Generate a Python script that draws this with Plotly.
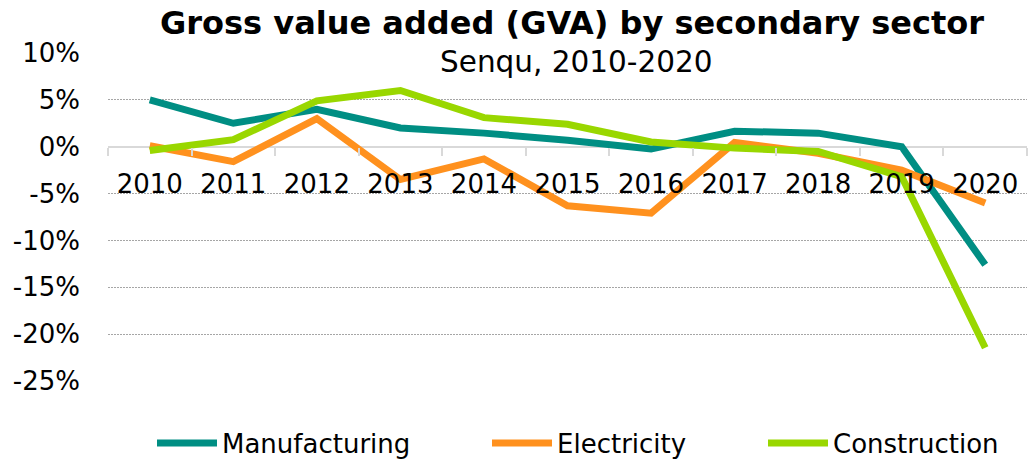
import plotly.graph_objects as go

years = ["2010", "2011", "2012", "2013", "2014", "2015", "2016", "2017", "2018", "2019", "2020"]
manufacturing = [5.0, 2.5, 4.0, 2.0, 1.45, 0.7, -0.25, 1.65, 1.45, 0.0, -12.6]
electricity = [0.1, -1.6, 3.0, -3.5, -1.3, -6.3, -7.1, 0.45, -0.7, -2.5, -6.0]
construction = [-0.4, 0.75, 4.9, 6.0, 3.1, 2.4, 0.5, -0.15, -0.5, -3.2, -21.45]

series_names = ["Manufacturing", "Electricity", "Construction"]
series_values = [manufacturing, electricity, construction]
series_colors = ["#008E83", "#FF911E", "#99D700"]
legend_ids = ["legend", "legend2", "legend3"]
legend_left_px = [157, 492, 768]

y_tick_values = [10, 5, 0, -5, -10, -15, -20, -25]
y_tick_labels = ["10%", "5%", "0%", "-5%", "-10%", "-15%", "-20%", "-25%"]

title_text = "<b>Gross value added (GVA) by secondary sector</b>"
subtitle_text = "Senqu, 2010-2020"

FONT = "Verdana, DejaVu Sans, sans-serif"

W, H = 1029, 461
L, R, T, B = 108, 2, 53, 80
plot_h = H - T - B
plot_w = W - L - R

fig = go.Figure()
for name, vals, col, lg in zip(series_names, series_values, series_colors, legend_ids):
    fig.add_trace(go.Scatter(
        x=years, y=vals, name=name, mode="lines",
        line=dict(color=col, width=7), legend=lg,
    ))

ymin, ymax = -25, 10
zero_pos = (0 - ymin) / (ymax - ymin)

legend_common = dict(orientation="h", xanchor="left", yanchor="middle",
                     y=(H - B - 443) / plot_h, bgcolor="rgba(0,0,0,0)",
                     font=dict(family=FONT, size=26, color="black"),
                     itemwidth=60)
legends = {}
for lg, px in zip(legend_ids, legend_left_px):
    legends[lg] = dict(legend_common, x=(px - 5 - L) / plot_w)

axis_tick_style = dict(
    type="category", range=[-0.5, 10.5],
    anchor="free", position=zero_pos,
    showgrid=False, showline=False, zeroline=False,
    ticklen=8, tickwidth=1.5, tickcolor="#D9D9D9", tickson="boundaries",
)

fig.update_layout(
    width=W, height=H,
    margin=dict(l=L, r=R, t=T, b=B, autoexpand=False),
    paper_bgcolor="white", plot_bgcolor="white",
    font=dict(family=FONT, size=26, color="black"),
    title=dict(text=title_text, x=572 / W, xanchor="center",
               y=1 - 23 / H, yanchor="middle", yref="container",
               font=dict(family=FONT, size=32, color="black")),
    annotations=[dict(text=subtitle_text, x=(576 - L) / plot_w, xref="paper", xanchor="center",
                      y=(H - B - 62) / plot_h, yref="paper", yanchor="middle",
                      showarrow=False, font=dict(family=FONT, size=29.5, color="black"))],
    showlegend=True,
    **legends,
    xaxis=dict(
        axis_tick_style, ticks="outside", ticklabelstandoff=19,
        tickfont=dict(family=FONT, size=26, color="black"),
    ),
    xaxis2=dict(
        axis_tick_style, ticks="inside", overlaying="x", matches="x",
        showticklabels=False,
    ),
    yaxis=dict(
        range=[ymin, ymax], tickmode="array",
        tickvals=y_tick_values, ticktext=y_tick_labels,
        showgrid=True, gridcolor="#A6A6A6", gridwidth=1, griddash="2px,1px",
        zeroline=True, zerolinecolor="#D9D9D9", zerolinewidth=2,
        showline=False, ticks="", ticklabelstandoff=27,
        tickfont=dict(family=FONT, size=26, color="black"),
    ),
)

fig.write_html("out.html", config={"displayModeBar": False},
               post_script="document.body.style.margin='0';")
